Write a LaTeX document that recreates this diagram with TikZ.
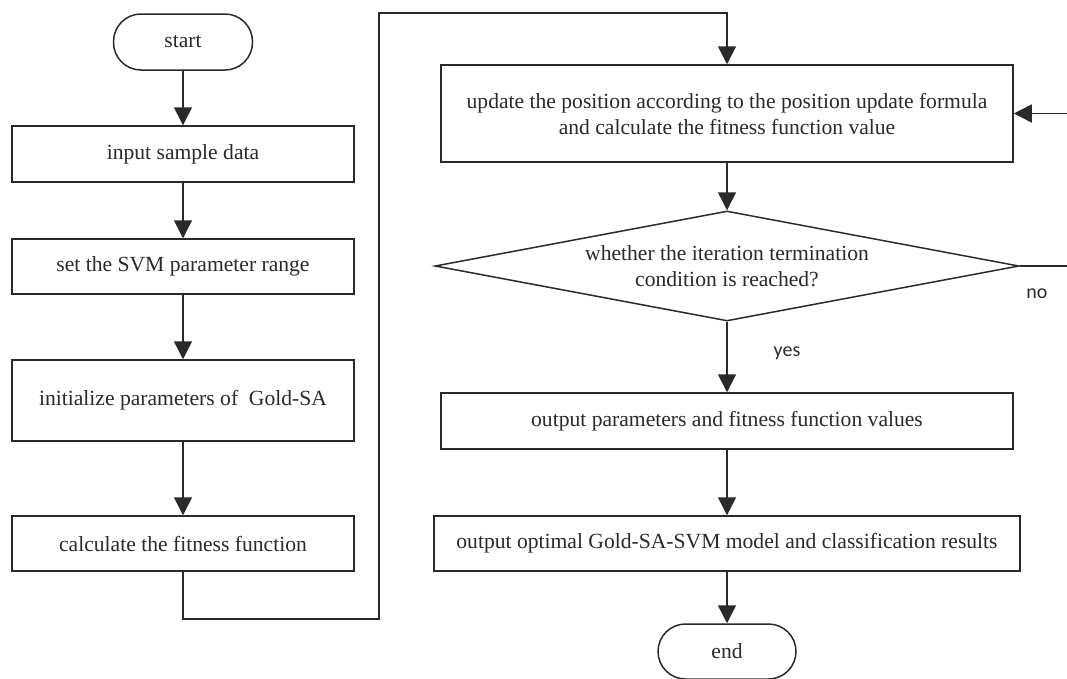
\documentclass[tikz,border=0pt]{standalone}
\usepackage{fontspec}
\setmainfont{Liberation Serif}
\newfontfamily\lblfont{Carlito}
\usetikzlibrary{shapes.geometric,arrows.meta}
\definecolor{ink}{HTML}{2A2A2A}
\tikzset{
  flow/.style={draw=ink, line width=1.5pt, text=ink, inner sep=0pt,
    font=\fontsize{21.6}{26}\selectfont, align=center},
  procbox/.style={flow, rectangle},
  termbox/.style={flow, rectangle, rounded corners=27.5pt, minimum height=55pt},
  decbox/.style={flow, diamond, aspect=5.3},
  arr/.style={draw=ink, line width=1.5pt, -{Triangle[length=18pt,width=18pt]}},
  tag/.style={text=ink, font=\lblfont\fontsize{20}{24}\selectfont, inner sep=0pt}
}
\begin{document}
\begin{tikzpicture}[x=1pt,y=-1pt]
\clip (0,0) rectangle (1067,678);
\fill[white] (0,0) rectangle (1067,678);

% left column
\node[termbox, minimum width=139pt, minimum height=56pt] (start) at (183,42) {start};
\node[procbox, minimum width=342pt, minimum height=56pt] (input) at (183,154) {input sample data};
\node[procbox, minimum width=342pt, minimum height=55pt] (range) at (183,266.5) {set the SVM parameter range};
\node[procbox, minimum width=342pt, minimum height=81pt] (init) at (183,400.5) {initialize parameters of\ \ Gold-SA};
\node[procbox, minimum width=342pt, minimum height=55pt] (calc) at (183,543.5) {calculate the fitness function};

% right column
\node[procbox, minimum width=572pt, minimum height=97pt] (update) at (727,113.5)
  {update the position according to the position update formula\\and calculate the fitness function value};
\node[decbox, minimum width=584pt, minimum height=110pt] (check) at (727,266)
  {whether the iteration termination\\condition is reached?};
\node[procbox, minimum width=572pt, minimum height=56pt] (params) at (727,421)
  {output parameters and fitness function values};
\node[procbox, minimum width=586pt, minimum height=55pt] (optimal) at (727,543.5)
  {output optimal Gold-SA-SVM model and classification results};
\node[termbox, minimum width=138pt] (end) at (727,651.5) {end};

% branch labels
\node[tag] (yes) at (787,353) {yes};
\node[tag] (no) at (1037,294) {no};

% routing points
\coordinate (loopA) at (183,619);
\coordinate (loopB) at (379,619);
\coordinate (loopC) at (379,13);
\coordinate (loopD) at (727,13);
\coordinate (backA) at (1080,266);
\coordinate (backB) at (1080,113.5);

% connectors
\draw[arr] (start.south) -- (input.north);
\draw[arr] (input.south) -- (range.north);
\draw[arr] (range.south) -- (init.north);
\draw[arr] (init.south) -- (calc.north);
\draw[arr] (calc.south) -- (loopA) -- (loopB) -- (loopC) -- (loopD) -- (update.north);
\draw[arr] (update.south) -- (check.north);
\draw[arr] (check.south) -- (params.north);
\draw[arr] (params.south) -- (optimal.north);
\draw[arr] (optimal.south) -- (end.north);
\draw[arr] (check.east) -- (backA) -- (backB) -- (update.east);
\end{tikzpicture}
\end{document}
